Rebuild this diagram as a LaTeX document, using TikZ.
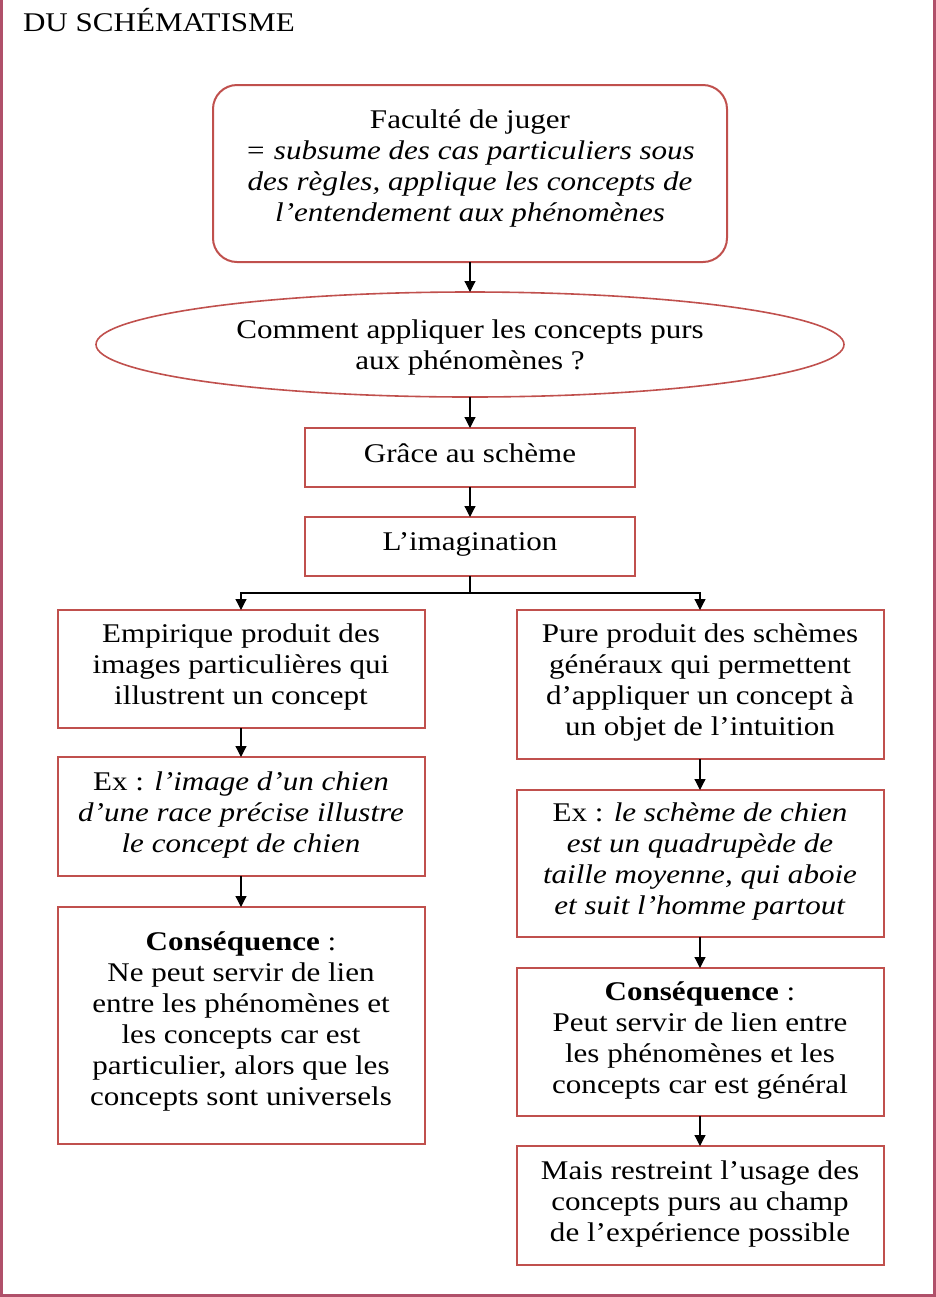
\documentclass[tikz,border=0pt]{standalone}
\usepackage{fontspec}
\setmainfont{Liberation Serif}[FakeStretch=1.15]
\usetikzlibrary{arrows.meta,positioning,shapes.geometric}
\definecolor{boxred}{HTML}{C0504D}
\definecolor{framered}{HTML}{B0506A}

\begin{document}
\begin{tikzpicture}[x=0.5pt, y=-0.5pt, node distance=15pt, >={Triangle[width=5.5pt,length=5.5pt]},
  font=\fontsize{13.5}{15.5}\selectfont,
  box/.style={draw=boxred, line width=1pt, align=center, minimum width=183.5pt, inner sep=2pt,
    outer sep=0pt, text depth=4.5pt},
  link/.style={->, line width=0.6pt}]
  \useasboundingbox (0,0) rectangle (936,1297);
  \draw[framered, line width=1.5pt] (1.5,0) -- (1.5,1295.5) -- (934.5,1295.5) -- (934.5,0);
  \node[anchor=base west] (title) at (16,31) {DU SCHÉMATISME};
  \node[box, rounded corners=12pt, minimum width=257pt, minimum height=88.5pt, text depth=8pt] (fac) at (470,173.5)
    {Faculté de juger\\ \textit{= subsume des cas particuliers sous}\\ \textit{des règles, applique les concepts de}\\ \textit{l’entendement aux phénomènes}};
  \node[ellipse, draw=boxred, line width=0.8pt, align=center, inner sep=0pt, outer sep=0pt, text depth=-1pt,
    minimum width=374pt, minimum height=52.5pt, below=15pt of fac] (quest)
    {Comment appliquer les concepts purs\\ aux phénomènes ?};
  \node[box, minimum width=165pt, minimum height=29.5pt, below=15.5pt of quest] (grace) {Grâce au schème};
  \node[box, minimum width=165pt, minimum height=29.5pt, below=15pt of grace] (imag) {L’imagination};
  \coordinate[below=8.5pt of imag.south] (split);
  % branche empirique
  \node[box, minimum height=59pt, below=17pt of imag, xshift=-114.5pt] (emp)
    {Empirique produit des\\ images particulières qui\\ illustrent un concept};
  \node[box, minimum height=59.5pt, below=14.5pt of emp] (exemp)
    {Ex : \textit{l’image d’un chien}\\ \textit{d’une race précise illustre}\\ \textit{le concept de chien}};
  \node[box, minimum height=118.5pt, below=15.5pt of exemp, text depth=6.5pt] (consemp)
    {\textbf{Conséquence} :\\ Ne peut servir de lien\\ entre les phénomènes et\\ les concepts car est\\ particulier, alors que les\\ concepts sont universels};
  % branche pure
  \node[box, minimum height=74.5pt, below=17pt of imag, xshift=115pt] (pure)
    {Pure produit des schèmes\\ généraux qui permettent\\ d’appliquer un concept à\\ un objet de l’intuition};
  \node[box, minimum height=73.5pt, below=15.5pt of pure] (expure)
    {Ex : \textit{le schème de chien}\\ \textit{est un quadrupède de}\\ \textit{taille moyenne, qui aboie}\\ \textit{et suit l’homme partout}};
  \node[box, minimum height=74pt, below=15.5pt of expure] (conspure)
    {\textbf{Conséquence} :\\ Peut servir de lien entre\\ les phénomènes et les\\ concepts car est général};
  \node[box, minimum height=59.5pt, below=15pt of conspure] (mais)
    {Mais restreint l’usage des\\ concepts purs au champ\\ de l’expérience possible};
  \draw[link] (fac) -- (quest);
  \draw[link] (quest) -- (grace);
  \draw[link] (grace) -- (imag);
  \draw[line width=0.6pt] (imag.south) -- (split);
  \draw[link] (split) -| (emp.north);
  \draw[link] (split) -| (pure.north);
  \draw[link] (emp) -- (exemp);
  \draw[link] (exemp) -- (consemp);
  \draw[link] (pure) -- (expure);
  \draw[link] (expure) -- (conspure);
  \draw[link] (conspure) -- (mais);
\end{tikzpicture}
\end{document}
